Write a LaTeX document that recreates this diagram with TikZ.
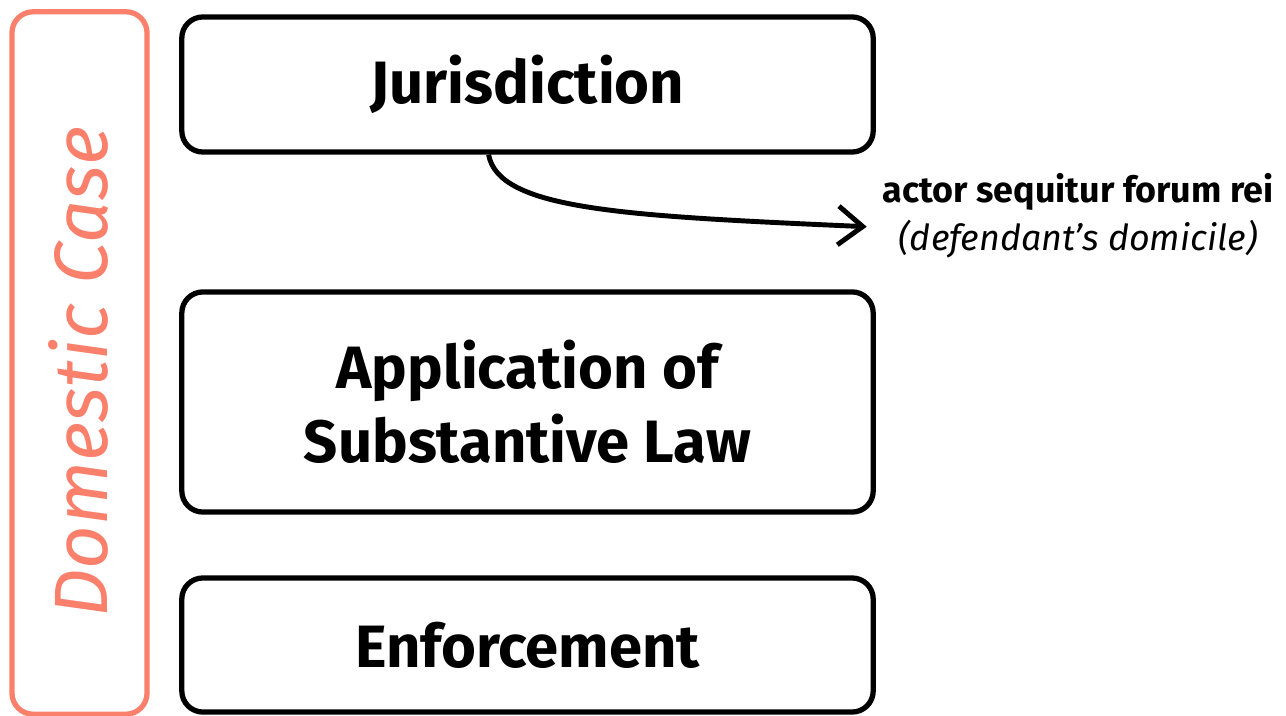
\documentclass[tikz,border=0pt]{standalone}
\usepackage{fontspec}
\setmainfont{Fira Sans}
\usetikzlibrary{arrows.meta}
\definecolor{domred}{RGB}{250,128,108}
\tikzset{
  stagebox/.style={draw=black, line width=1.5pt, rounded corners=6pt, minimum width=6.91cm, align=center, font=\fontsize{17}{21}\selectfont\bfseries},
}
\begin{document}
\begin{tikzpicture}[x=0.01cm, y=-0.01cm]
    \useasboundingbox (0,0) rectangle (1286,716);

    % Left frame with the rotated title
    \node[draw=domred, line width=1.5pt, rounded corners=6pt, minimum width=1.35cm, minimum height=7.02cm] (domestic) at (79.5,363) {};
    \node[rotate=90, text=domred, font=\fontsize{21.5}{26}\selectfont\itshape] (domtitle) at (78,372) {Domestic Case};

    % The three stages
    \node[stagebox, minimum height=1.35cm] (juris) at (527.5,84.5) {Jurisdiction};
    \node[stagebox, minimum height=2.2cm] (law) at (527.5,402) {Application of\\Substantive Law};
    \node[stagebox, minimum height=1.34cm] (enforce) at (527.5,645) {Enforcement};

    % The rule for jurisdiction
    \node[align=center, font=\fontsize{10.2}{13.7}\selectfont] (maxim) at (1078,216) {\textbf{actor sequitur forum rei}\\\textit{(defendant’s domicile)}};
    \draw[line width=1.4pt, -{Straight Barb[length=7pt, width=11pt, line width=1.4pt]}, shorten >=1pt]
        (juris.241) .. controls +(10,55) and +(-248,-11) .. (maxim.183);
\end{tikzpicture}
\end{document}
